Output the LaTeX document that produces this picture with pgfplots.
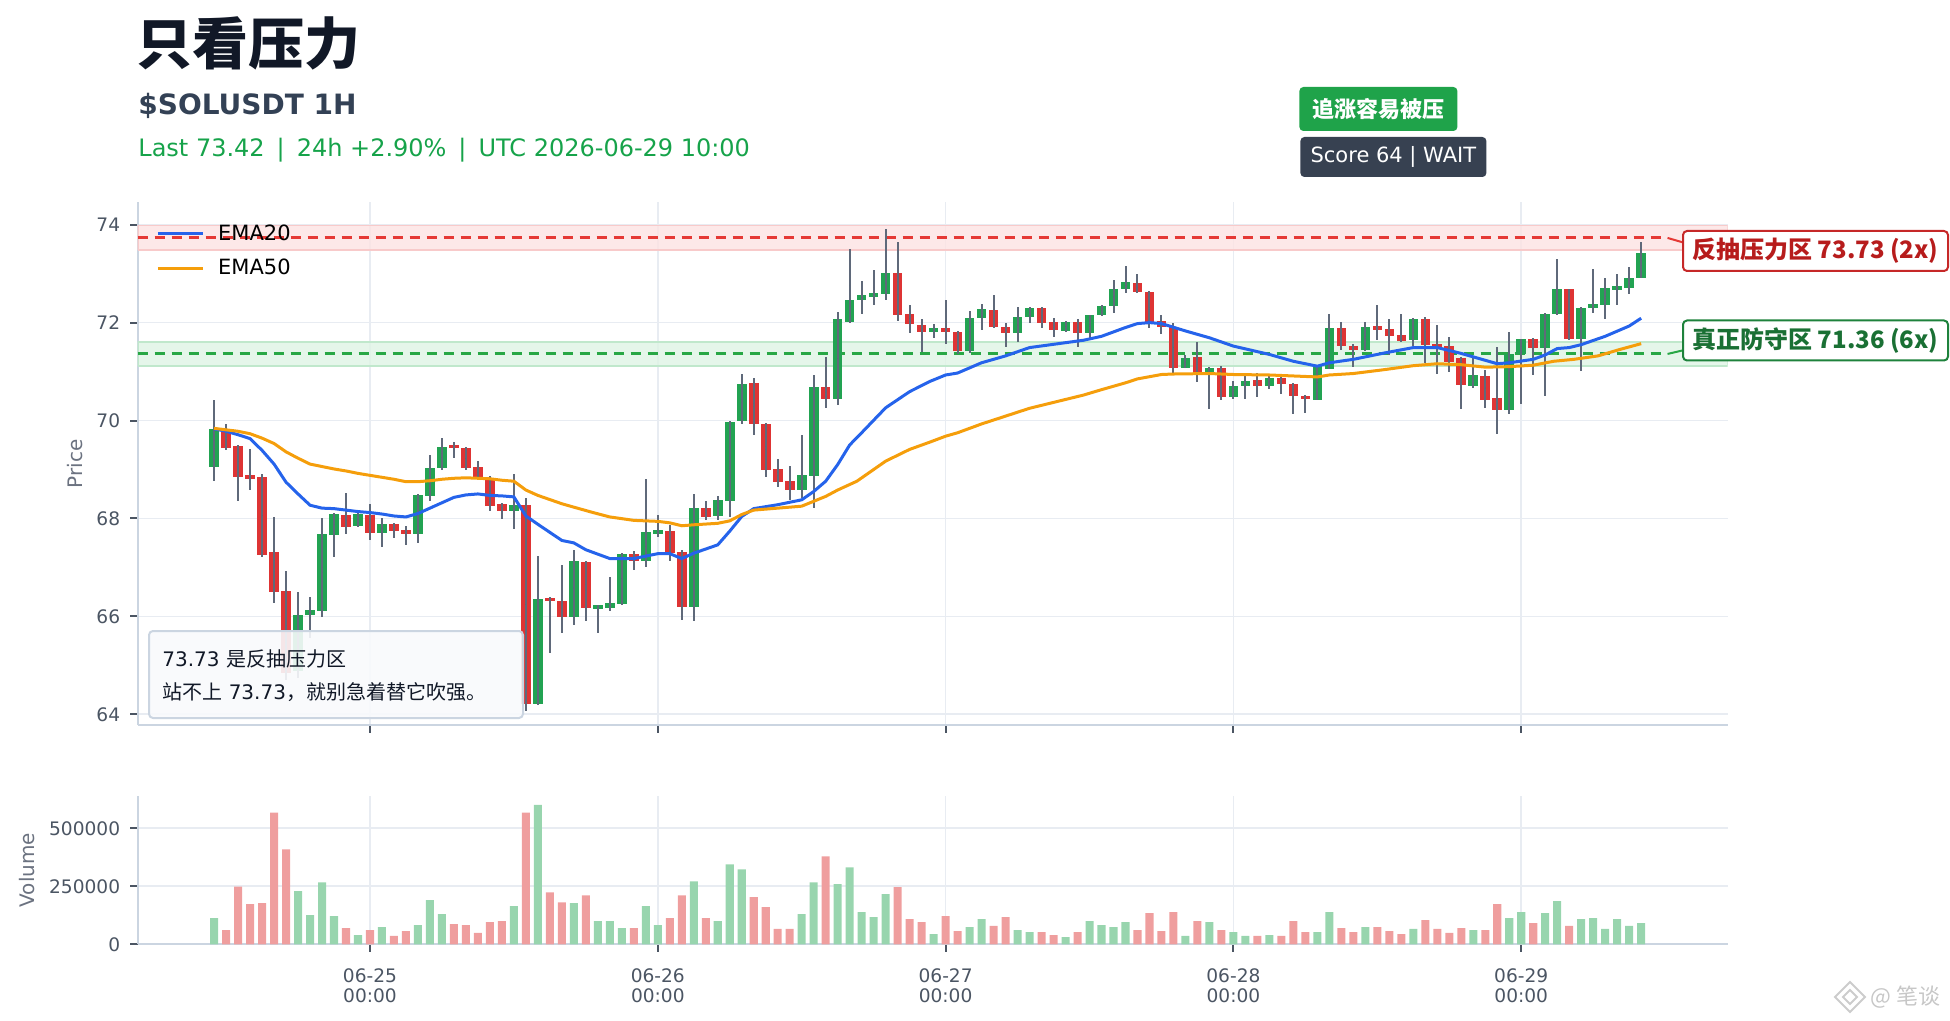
\documentclass[border=0pt]{standalone}
\usepackage{fontspec}
\setmainfont{DejaVu Sans}
\newfontfamily\cjk{Noto Sans CJK SC}
\usepackage{pgfplots}
\pgfplotsset{compat=1.18}
\usepackage{pgfplotstable}

\definecolor{ctitle}{RGB}{17,24,39}
\definecolor{csub}{RGB}{51,65,85}
\definecolor{chead}{RGB}{22,163,74}
\definecolor{ctickl}{RGB}{75,85,99}
\definecolor{clab}{RGB}{107,114,128}
\definecolor{cgrid}{RGB}{232,236,242}
\definecolor{caxis}{RGB}{203,213,225}
\definecolor{cup}{RGB}{34,163,82}
\definecolor{cdn}{RGB}{222,52,52}
\definecolor{cwick}{RGB}{95,105,122}
\definecolor{vup}{RGB}{152,213,174}
\definecolor{vdn}{RGB}{239,158,158}
\definecolor{cema1}{RGB}{37,99,235}
\definecolor{cema2}{RGB}{245,158,11}
\definecolor{cres}{RGB}{229,57,53}
\definecolor{cresband}{RGB}{252,226,226}
\definecolor{cresedge}{RGB}{248,202,202}
\definecolor{csup}{RGB}{40,167,69}
\definecolor{csupband}{RGB}{222,244,229}
\definecolor{csupedge}{RGB}{192,232,204}
\definecolor{clabred}{RGB}{198,40,40}
\definecolor{ctxtred}{RGB}{183,28,28}
\definecolor{clabgrn}{RGB}{30,130,60}
\definecolor{ctxtgrn}{RGB}{26,112,52}
\definecolor{cbadge}{RGB}{31,163,74}
\definecolor{cdark}{RGB}{55,65,81}
\definecolor{cbox}{RGB}{248,250,252}

% t = hours from 06-25 00:00 UTC; o hi lo c; v = volume in thousands
\pgfplotstableread{
t o hi lo c v
-13 69.05 70.41 68.77 69.82 113
-6 64.88 66.50 64.75 66.03 229
-5 66.03 66.39 65.56 66.13 126
-4 66.11 68.01 65.99 67.69 267
-3 67.67 68.12 67.22 68.10 121
-1 67.84 68.18 67.82 68.10 40
1 67.71 68.01 67.41 67.89 74
4 67.69 68.49 67.50 68.47 83
5 68.45 69.29 68.35 69.03 190
6 69.03 69.65 69.00 69.46 130
12 68.16 68.90 67.79 68.28 164
14 64.21 67.23 64.19 66.36 601
17 65.98 67.35 65.83 67.14 177
19 66.17 66.24 65.66 66.22 100
20 66.17 66.80 66.10 66.28 100
21 66.26 67.29 66.24 67.27 70
23 67.14 68.80 67.01 67.72 164
24 67.71 68.08 67.62 67.74 83
27 66.20 68.49 65.91 68.21 271
29 68.06 68.45 67.96 68.38 100
30 68.35 70.00 68.02 69.97 344
31 70.00 70.96 69.92 70.75 323
36 68.59 69.71 68.42 68.88 130
37 68.86 70.92 68.21 70.69 267
39 70.45 72.22 70.31 72.07 259
40 72.02 73.50 72.00 72.47 331
41 72.46 72.85 72.17 72.56 139
42 72.53 73.07 72.35 72.60 117
43 72.58 73.91 72.46 73.01 216
47 71.81 71.98 71.68 71.90 44
50 71.42 72.24 71.38 72.10 74
51 72.10 72.39 71.84 72.27 109
54 71.78 72.32 71.60 72.12 61
55 72.11 72.31 72.00 72.30 53
58 71.83 72.04 71.81 72.02 31
60 71.78 72.16 71.68 72.15 100
61 72.15 72.36 72.13 72.35 83
62 72.35 72.87 72.20 72.69 74
63 72.69 73.16 72.61 72.83 96
68 71.08 71.34 71.07 71.28 36
70 71.00 71.09 70.24 71.08 96
72 70.48 70.80 70.45 70.70 53
73 70.70 70.91 70.43 70.80 36
75 70.70 70.96 70.65 70.86 40
79 70.43 71.12 70.42 71.11 53
80 71.06 72.17 71.05 71.90 139
83 71.45 72.01 71.42 71.92 74
87 71.64 72.09 71.52 72.08 66
92 70.70 71.27 70.66 70.92 61
95 70.21 71.81 70.14 71.36 113
96 71.36 71.67 70.34 71.66 139
98 71.49 72.19 70.51 72.17 134
99 72.17 73.29 72.16 72.68 186
101 71.66 72.31 71.02 72.30 109
102 72.32 73.09 72.20 72.37 113
103 72.36 72.92 72.07 72.71 66
104 72.70 72.99 72.37 72.72 109
105 72.70 73.14 72.59 72.92 79
106 72.92 73.65 72.91 73.42 91
}\uptab

\pgfplotstableread{
t o hi lo c v
-12 69.80 69.92 69.39 69.44 61
-11 69.48 69.50 68.36 68.85 249
-10 68.87 69.41 68.58 68.83 173
-9 68.85 68.90 67.22 67.25 177
-8 67.32 68.02 66.27 66.50 567
-7 66.52 66.92 64.70 64.85 409
-2 68.08 68.53 67.69 67.82 70
0 68.06 68.30 67.57 67.71 61
2 67.89 67.91 67.61 67.74 36
3 67.75 67.85 67.46 67.70 57
7 69.50 69.56 69.24 69.44 87
8 69.44 69.46 68.99 69.03 83
9 69.06 69.17 68.81 68.83 49
10 68.83 68.86 68.15 68.26 96
11 68.30 68.32 67.99 68.16 100
13 68.28 68.42 64.06 64.21 567
15 66.38 66.40 65.25 66.31 224
16 66.32 67.04 65.66 65.98 181
18 67.12 67.14 65.91 66.17 211
22 67.27 67.34 66.95 67.14 70
25 67.74 67.87 67.14 67.29 113
26 67.31 67.35 65.93 66.20 211
28 68.21 68.36 67.96 68.04 113
32 70.77 70.86 69.71 69.93 203
33 69.93 69.95 68.85 69.00 160
34 69.02 69.22 68.64 68.75 66
35 68.77 69.08 68.38 68.59 66
38 70.69 71.30 70.26 70.45 379
44 73.01 73.65 72.04 72.15 246
45 72.17 72.37 71.79 71.98 109
46 71.95 72.07 71.40 71.81 96
48 71.90 72.47 71.57 71.81 121
49 71.81 71.83 71.35 71.42 57
52 72.25 72.56 71.90 71.92 79
53 71.92 72.00 71.51 71.78 117
56 72.30 72.31 71.88 72.00 53
57 72.02 72.09 71.71 71.85 40
59 72.02 72.07 71.51 71.78 53
64 72.82 72.99 72.61 72.62 61
65 72.63 72.64 71.90 71.99 134
66 72.03 72.15 71.76 71.91 57
67 71.91 72.00 70.97 71.08 139
69 71.30 71.60 70.79 71.00 100
71 71.08 71.12 70.41 70.48 61
74 70.82 70.97 70.48 70.70 36
76 70.86 70.96 70.55 70.75 36
77 70.75 70.76 70.14 70.50 100
78 70.51 70.52 70.16 70.43 53
81 71.90 72.02 71.45 71.52 70
82 71.51 71.57 71.10 71.45 53
84 71.92 72.37 71.64 71.86 74
85 71.86 72.07 71.33 71.72 57
86 71.74 72.17 71.61 71.62 44
88 72.08 72.11 71.18 71.55 104
89 71.54 71.95 70.95 71.50 66
90 71.52 71.70 71.00 71.20 49
91 71.28 71.30 70.24 70.72 70
93 70.92 71.04 70.26 70.43 61
94 70.46 71.50 69.73 70.22 173
97 71.66 71.68 70.94 71.49 91
100 72.68 72.69 71.64 71.66 79
}\dntab

\pgfplotstableread{
t e
-13 69.83
-12 69.78
-11 69.71
-10 69.63
-9 69.39
-8 69.11
-7 68.74
-6 68.50
-5 68.27
-4 68.21
-3 68.20
-2 68.17
-1 68.14
0 68.12
1 68.09
2 68.05
3 68.03
4 68.10
5 68.21
6 68.32
7 68.43
8 68.48
9 68.50
10 68.47
11 68.46
12 68.44
13 68.05
14 67.88
16 67.55
17 67.50
18 67.36
20 67.18
22 67.18
24 67.28
25 67.28
26 67.18
27 67.29
29 67.46
30 67.74
31 68.04
32 68.20
34 68.28
36 68.38
37 68.55
38 68.76
39 69.10
40 69.50
41 69.75
43 70.26
45 70.59
46.7 70.80
48 70.93
49 70.97
51 71.18
53 71.32
55 71.49
58 71.59
59.5 71.64
61 71.72
63 71.90
64 71.98
65 72.00
66 71.98
68 71.83
70 71.69
72 71.52
75 71.35
77 71.21
79 71.11
80 71.18
82 71.25
84.6 71.38
87 71.49
89 71.49
91 71.37
93 71.23
94 71.16
95 71.18
97 71.25
98 71.34
99 71.47
100 71.49
101 71.55
103 71.72
105 71.93
106 72.09
}\emaA

\pgfplotstableread{
t e
-13 69.84
-12 69.81
-11 69.78
-10 69.73
-9 69.64
-8 69.53
-7 69.36
-6 69.23
-5 69.11
-4 69.06
-3 69.01
-2 68.97
-1 68.92
0 68.88
1 68.84
2 68.80
3 68.75
4 68.75
5 68.77
6 68.80
7 68.82
8 68.83
9 68.82
10 68.81
11 68.78
12 68.76
13 68.58
14 68.47
16 68.30
17 68.23
18.6 68.12
20 68.03
22 67.96
24 67.94
25 67.91
26 67.85
27 67.87
29 67.90
30 67.95
31 68.08
32 68.17
34 68.21
36 68.25
37 68.35
38 68.45
39 68.58
40.6 68.76
43 69.17
45 69.41
46.7 69.56
48 69.68
49 69.75
51 69.93
53 70.09
55 70.25
58 70.43
59.5 70.52
61 70.63
63 70.77
64 70.85
66 70.94
67 70.95
70 70.96
72 70.94
75 70.93
77 70.91
79 70.89
80 70.93
82 70.96
84.6 71.04
87 71.12
89 71.16
91 71.14
93 71.09
95 71.10
97 71.13
98.7 71.21
100.4 71.25
102.4 71.32
104.2 71.45
106 71.57
}\emaB

\pgfplotsset{
  base/.style={
    scale only axis, width=794.9pt,
    xmin=-19.37, xmax=113.2,
    axis x line*=bottom, axis y line*=left,
    axis line style={draw=caxis, line width=1pt, -},
    tick align=outside, major tick length=3.75pt,
    tick style={draw=ctickl, line width=1pt},
    grid=major, major grid style={draw=cgrid, line width=0.8pt},
    tick label style={font=\fontsize{9.3pt}{10pt}\selectfont, text=ctickl},
    /pgf/number format/assume math mode=true,
    scaled y ticks=false, scaled x ticks=false,
    xtick={0,24,48,72,96},
  },
  candle/.style={forget plot, only marks, mark=*, mark size=0pt,
    mark options={draw=none, fill=none}},
}

\begin{document}
\begin{tikzpicture}
\path[use as bounding box] (0pt,0pt) rectangle (975pt,-510.5pt);

% ---------------- price axis
\begin{axis}[base,
  at={(68.85pt,-362.5pt)}, anchor=south west,
  height=261.65pt,
  ymin=63.78, ymax=74.47,
  ytick={64,66,68,70,72,74}, yticklabels={64,66,68,70,72,74},
  xticklabels={},
  yticklabel style={xshift=-1.5pt},
  legend style={draw=none, fill=none, at={(0.0115,0.965)}, anchor=north west,
    inner sep=0pt, row sep=4pt, font=\fontsize{10.5pt}{12pt}\selectfont, text=black,
    nodes={inner sep=2pt}},
  legend cell align=left,
  legend image code/.code={\draw[#1, line width=1.4pt] (0pt,0pt) -- (22.5pt,0pt);},
  legend style={/tikz/every odd column/.append style={column sep=5pt}},
]
% zones
\addplot[forget plot, draw=cresedge, line width=0.8pt, fill=cresband, fill opacity=0.8]
  coordinates {(-19.37,73.48) (113.2,73.48) (113.2,73.98) (-19.37,73.98) (-19.37,73.48)};
\addplot[forget plot, draw=csupedge, line width=0.8pt, fill=csupband, fill opacity=0.8]
  coordinates {(-19.37,71.11) (113.2,71.11) (113.2,71.61) (-19.37,71.61) (-19.37,71.11)};
\addplot[forget plot, draw=cres, line width=1.5pt, dash pattern=on 5pt off 3.5pt]
  coordinates {(-19.37,73.73) (108.2,73.73)};
\addplot[forget plot, draw=cres, line width=1pt] coordinates {(108.2,73.73) (109.6,73.63)};
\addplot[forget plot, draw=csup, line width=1.5pt, dash pattern=on 5pt off 3.5pt]
  coordinates {(-19.37,71.36) (108.2,71.36)};
\addplot[forget plot, draw=csup, line width=1pt] coordinates {(108.2,71.36) (109.6,71.44)};

% candle bodies
\addplot[candle,
  error bars/.cd, y dir=both, y explicit, error mark=none,
  error bar style={line width=4.8pt, draw=cup}]
  table[x=t, y expr={(\thisrow{o}+\thisrow{c})/2},
        y error expr={max(abs(\thisrow{c}-\thisrow{o})/2,0.04)}] {\uptab};
\addplot[candle,
  error bars/.cd, y dir=both, y explicit, error mark=none,
  error bar style={line width=4.8pt, draw=cdn}]
  table[x=t, y expr={(\thisrow{o}+\thisrow{c})/2},
        y error expr={max(abs(\thisrow{c}-\thisrow{o})/2,0.04)}] {\dntab};
% wicks
\addplot[candle,
  error bars/.cd, y dir=both, y explicit, error mark=none,
  error bar style={line width=1pt, draw=cwick}]
  table[x=t, y expr={(\thisrow{hi}+\thisrow{lo})/2},
        y error expr={(\thisrow{hi}-\thisrow{lo})/2}] {\uptab};
\addplot[candle,
  error bars/.cd, y dir=both, y explicit, error mark=none,
  error bar style={line width=1pt, draw=cwick}]
  table[x=t, y expr={(\thisrow{hi}+\thisrow{lo})/2},
        y error expr={(\thisrow{hi}-\thisrow{lo})/2}] {\dntab};

% EMAs
\addplot[draw=cema1, line width=1.5pt, mark=none] table[x=t, y=e] {\emaA};
\addlegendentry{EMA20}
\addplot[draw=cema2, line width=1.5pt, mark=none] table[x=t, y=e] {\emaB};
\addlegendentry{EMA50}
\end{axis}

% ---------------- volume axis
\begin{axis}[base,
  at={(68.85pt,-472.15pt)}, anchor=south west,
  height=74.15pt,
  ymin=0, ymax=639000,
  ytick={0,250000,500000}, yticklabels={0,250000,500000},
  yticklabel style={xshift=-1.5pt},
  xticklabels={{06-25\\00:00},{06-26\\00:00},{06-27\\00:00},{06-28\\00:00},{06-29\\00:00}},
  xticklabel style={align=center, yshift=-5pt},
]
\addplot[ybar, bar width=0.67, bar shift=0pt, fill=vup, draw=none]
  table[x=t, y expr={\thisrow{v}*1000}] {\uptab};
\addplot[ybar, bar width=0.67, bar shift=0pt, fill=vdn, draw=none]
  table[x=t, y expr={\thisrow{v}*1000}] {\dntab};
\end{axis}

% ---------------- axis titles
\node[rotate=90, text=clab, font=\fontsize{10pt}{12pt}\selectfont] at (37.5pt,-232pt) {Price};
\node[rotate=90, text=clab, font=\fontsize{10pt}{12pt}\selectfont] at (13.35pt,-435pt) {Volume};

% ---------------- annotation box
\draw[draw=caxis, line width=1pt, fill=cbox, fill opacity=0.9, rounded corners=2pt]
  (74.5pt,-315.5pt) rectangle (261.5pt,-359pt);
\node[anchor=base west, inner sep=0pt, text=ctitle, font=\fontsize{10pt}{12pt}\selectfont]
  at (81pt,-333pt) {73.73 {\cjk 是反抽压力区}};
\node[anchor=base west, inner sep=0pt, text=ctitle, font=\fontsize{10pt}{12pt}\selectfont]
  at (81pt,-349.5pt) {{\cjk 站不上} 73.73{\cjk ，就别急着替它吹强。}};

% ---------------- headers
\node[anchor=base west, inner sep=0pt, text=ctitle, font=\cjk\bfseries\fontsize{28pt}{30pt}\selectfont]
  at (68pt,-32.25pt) {只看压力};
\node[anchor=base west, inner sep=0pt, text=csub, font=\bfseries\fontsize{14pt}{16pt}\selectfont]
  at (69pt,-57.5pt) {\$SOLUSDT 1H};
\node[anchor=base west, inner sep=0pt, text=chead, font=\fontsize{12pt}{14pt}\selectfont]
  at (69pt,-78.3pt) {Last 73.42\hspace{0.5em}|\hspace{0.5em}24h +2.90\%\hspace{0.5em}|\hspace{0.5em}UTC 2026-06-29 10:00};

% ---------------- badges
\node[anchor=west, fill=cbadge, text=white, rounded corners=2pt, minimum height=22pt,
  minimum width=79pt, inner sep=0pt, font=\cjk\bfseries\fontsize{11pt}{12pt}\selectfont]
  at (649.5pt,-54.5pt) {追涨容易被压};
\node[anchor=west, fill=cdark, text=white, rounded corners=2pt, minimum height=20pt,
  minimum width=93pt, inner sep=0pt, font=\fontsize{10.5pt}{12pt}\selectfont]
  at (650pt,-78.5pt) {Score 64 | WAIT};

% ---------------- level labels
\node[draw=clabred, line width=1pt, fill=white, rounded corners=2pt, minimum width=132.5pt,
  minimum height=20pt, inner sep=0pt, text=ctxtred, font=\cjk\bfseries\fontsize{12pt}{13pt}\selectfont]
  at (907.75pt,-125.5pt) {反抽压力区 73.73 (2x)};
\node[draw=clabgrn, line width=1pt, fill=white, rounded corners=2pt, minimum width=132.5pt,
  minimum height=20pt, inner sep=0pt, text=ctxtgrn, font=\cjk\bfseries\fontsize{12pt}{13pt}\selectfont]
  at (907.75pt,-170.25pt) {真正防守区 71.36 (6x)};

% ---------------- watermark
\draw[black!20, line width=1pt] (925pt,-491pt) -- (932.5pt,-498.5pt) -- (925pt,-506pt) -- (917.5pt,-498.5pt) -- cycle;
\draw[black!20, line width=1pt] (925pt,-495pt) -- (928.5pt,-498.5pt) -- (925pt,-502pt) -- (921.5pt,-498.5pt) -- cycle;
\node[anchor=west, inner sep=0pt, text=black!22, font=\cjk\fontsize{11pt}{12pt}\selectfont]
  at (935pt,-498.5pt) {@ 笔谈};
\end{tikzpicture}
\end{document}
